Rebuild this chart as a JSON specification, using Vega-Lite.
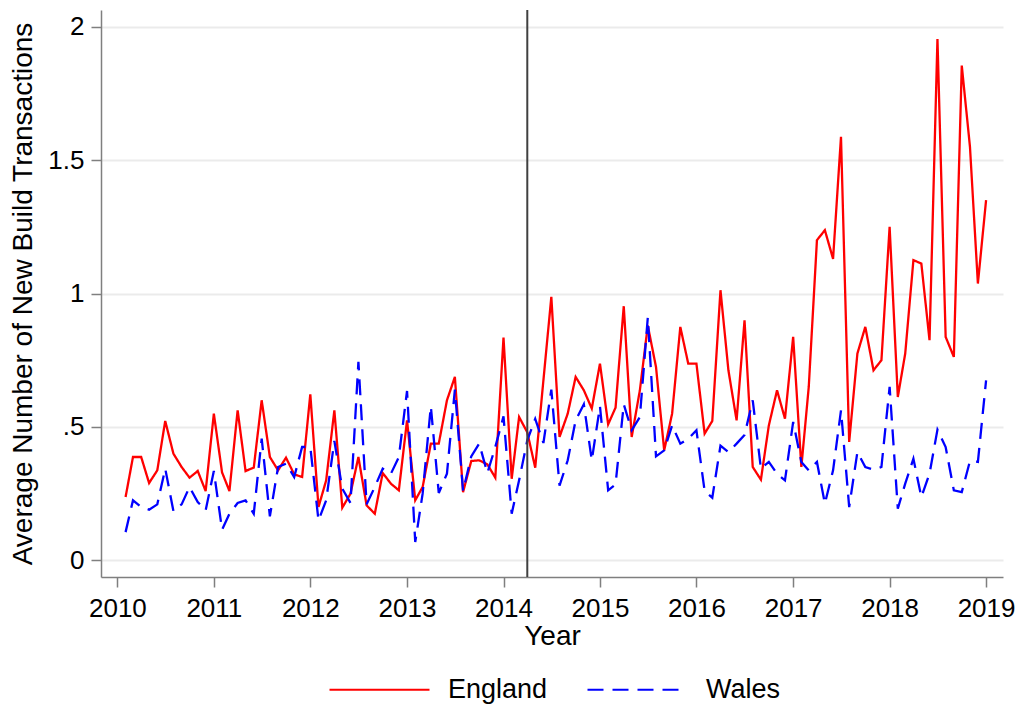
{
  "$schema": "https://vega.github.io/schema/vega-lite/v6.json",
  "width": 902,
  "height": 567,
  "autosize": {"type": "none"},
  "padding": {"left": 101, "top": 10, "right": 19, "bottom": 129},
  "background": "white",
  "config": {
    "view": {"stroke": null},
    "font": "Liberation Sans",
    "axis": {
      "domainColor": "#7f7f7f",
      "domainWidth": 1.5,
      "tickColor": "#7f7f7f",
      "tickWidth": 1.5,
      "tickSize": 10,
      "labelColor": "#000000",
      "labelFont": "Liberation Sans",
      "labelFontSize": 26,
      "titleColor": "#000000",
      "titleFont": "Liberation Sans",
      "titleFontSize": 28,
      "titleFontWeight": "normal"
    },
    "legend": {
      "labelFont": "Liberation Sans",
      "labelFontSize": 27,
      "labelColor": "#000000",
      "symbolType": "stroke",
      "symbolSize": 10000,
      "symbolStrokeWidth": 2.2,
      "labelOffset": 17,
      "columnPadding": 35,
      "padding": 0
    }
  },
  "layer": [
    {
      "data": {
        "values": [
          {"date": "2010-02-01", "England": 0.2375, "Wales": 0.106},
          {"date": "2010-03-01", "England": 0.3875, "Wales": 0.225},
          {"date": "2010-04-01", "England": 0.3875, "Wales": 0.2},
          {"date": "2010-05-01", "England": 0.29, "Wales": 0.19},
          {"date": "2010-06-01", "England": 0.3375, "Wales": 0.21},
          {"date": "2010-07-01", "England": 0.5225, "Wales": 0.344},
          {"date": "2010-08-01", "England": 0.4, "Wales": 0.185},
          {"date": "2010-09-01", "England": 0.35, "Wales": 0.21},
          {"date": "2010-10-01", "England": 0.31, "Wales": 0.275},
          {"date": "2010-11-01", "England": 0.335, "Wales": 0.219},
          {"date": "2010-12-01", "England": 0.26, "Wales": 0.1875},
          {"date": "2011-01-01", "England": 0.55, "Wales": 0.335},
          {"date": "2011-02-01", "England": 0.33, "Wales": 0.115},
          {"date": "2011-03-01", "England": 0.26, "Wales": 0.175},
          {"date": "2011-04-01", "England": 0.5625, "Wales": 0.215},
          {"date": "2011-05-01", "England": 0.335, "Wales": 0.225},
          {"date": "2011-06-01", "England": 0.3475, "Wales": 0.175},
          {"date": "2011-07-01", "England": 0.6, "Wales": 0.456},
          {"date": "2011-08-01", "England": 0.3875, "Wales": 0.165},
          {"date": "2011-09-01", "England": 0.3375, "Wales": 0.35},
          {"date": "2011-10-01", "England": 0.385, "Wales": 0.3625},
          {"date": "2011-11-01", "England": 0.3225, "Wales": 0.3125},
          {"date": "2011-12-01", "England": 0.3125, "Wales": 0.425},
          {"date": "2012-01-01", "England": 0.6225, "Wales": 0.425},
          {"date": "2012-02-01", "England": 0.2, "Wales": 0.15},
          {"date": "2012-03-01", "England": 0.3, "Wales": 0.225},
          {"date": "2012-04-01", "England": 0.5625, "Wales": 0.4475},
          {"date": "2012-05-01", "England": 0.1975, "Wales": 0.269},
          {"date": "2012-06-01", "England": 0.25, "Wales": 0.215},
          {"date": "2012-07-01", "England": 0.3875, "Wales": 0.744},
          {"date": "2012-08-01", "England": 0.206, "Wales": 0.21},
          {"date": "2012-09-01", "England": 0.175, "Wales": 0.275},
          {"date": "2012-10-01", "England": 0.3275, "Wales": 0.344},
          {"date": "2012-11-01", "England": 0.2875, "Wales": 0.325},
          {"date": "2012-12-01", "England": 0.2625, "Wales": 0.3875},
          {"date": "2013-01-01", "England": 0.525, "Wales": 0.635},
          {"date": "2013-02-01", "England": 0.225, "Wales": 0.069},
          {"date": "2013-03-01", "England": 0.275, "Wales": 0.25},
          {"date": "2013-04-01", "England": 0.4375, "Wales": 0.5775},
          {"date": "2013-05-01", "England": 0.4375, "Wales": 0.2525},
          {"date": "2013-06-01", "England": 0.6, "Wales": 0.325},
          {"date": "2013-07-01", "England": 0.6875, "Wales": 0.64},
          {"date": "2013-08-01", "England": 0.256, "Wales": 0.26},
          {"date": "2013-09-01", "England": 0.3725, "Wales": 0.39},
          {"date": "2013-10-01", "England": 0.375, "Wales": 0.4375},
          {"date": "2013-11-01", "England": 0.36, "Wales": 0.3275},
          {"date": "2013-12-01", "England": 0.31, "Wales": 0.425},
          {"date": "2014-01-01", "England": 0.835, "Wales": 0.54},
          {"date": "2014-02-01", "England": 0.306, "Wales": 0.175},
          {"date": "2014-03-01", "England": 0.5375, "Wales": 0.3},
          {"date": "2014-04-01", "England": 0.48, "Wales": 0.45},
          {"date": "2014-05-01", "England": 0.3475, "Wales": 0.53},
          {"date": "2014-06-01", "England": 0.675, "Wales": 0.44},
          {"date": "2014-07-01", "England": 0.9875, "Wales": 0.64},
          {"date": "2014-08-01", "England": 0.4625, "Wales": 0.28},
          {"date": "2014-09-01", "England": 0.55, "Wales": 0.375},
          {"date": "2014-10-01", "England": 0.6875, "Wales": 0.525},
          {"date": "2014-11-01", "England": 0.6375, "Wales": 0.585},
          {"date": "2014-12-01", "England": 0.569, "Wales": 0.375},
          {"date": "2015-01-01", "England": 0.7375, "Wales": 0.5775},
          {"date": "2015-02-01", "England": 0.51, "Wales": 0.2625},
          {"date": "2015-03-01", "England": 0.5725, "Wales": 0.285},
          {"date": "2015-04-01", "England": 0.9525, "Wales": 0.585},
          {"date": "2015-05-01", "England": 0.4625, "Wales": 0.4875},
          {"date": "2015-06-01", "England": 0.6375, "Wales": 0.5375},
          {"date": "2015-07-01", "England": 0.88, "Wales": 0.91},
          {"date": "2015-08-01", "England": 0.725, "Wales": 0.39},
          {"date": "2015-09-01", "England": 0.4125, "Wales": 0.4125},
          {"date": "2015-10-01", "England": 0.55, "Wales": 0.506},
          {"date": "2015-11-01", "England": 0.875, "Wales": 0.4375},
          {"date": "2015-12-01", "England": 0.7375, "Wales": 0.456},
          {"date": "2016-01-01", "England": 0.7375, "Wales": 0.4875},
          {"date": "2016-02-01", "England": 0.475, "Wales": 0.26},
          {"date": "2016-03-01", "England": 0.5225, "Wales": 0.235},
          {"date": "2016-04-01", "England": 1.0125, "Wales": 0.43},
          {"date": "2016-05-01", "England": 0.7125, "Wales": 0.406},
          {"date": "2016-06-01", "England": 0.525, "Wales": 0.4375},
          {"date": "2016-07-01", "England": 0.9, "Wales": 0.47},
          {"date": "2016-08-01", "England": 0.35, "Wales": 0.6},
          {"date": "2016-09-01", "England": 0.3025, "Wales": 0.344},
          {"date": "2016-10-01", "England": 0.506, "Wales": 0.369},
          {"date": "2016-11-01", "England": 0.6375, "Wales": 0.325},
          {"date": "2016-12-01", "England": 0.531, "Wales": 0.3},
          {"date": "2017-01-01", "England": 0.8375, "Wales": 0.519},
          {"date": "2017-02-01", "England": 0.35, "Wales": 0.369},
          {"date": "2017-03-01", "England": 0.65, "Wales": 0.3375},
          {"date": "2017-04-01", "England": 1.2, "Wales": 0.369},
          {"date": "2017-05-01", "England": 1.2375, "Wales": 0.2125},
          {"date": "2017-06-01", "England": 1.13, "Wales": 0.3375},
          {"date": "2017-07-01", "England": 1.5875, "Wales": 0.5625},
          {"date": "2017-08-01", "England": 0.444, "Wales": 0.2},
          {"date": "2017-09-01", "England": 0.775, "Wales": 0.406},
          {"date": "2017-10-01", "England": 0.875, "Wales": 0.35},
          {"date": "2017-11-01", "England": 0.7125, "Wales": 0.34},
          {"date": "2017-12-01", "England": 0.75, "Wales": 0.35},
          {"date": "2018-01-01", "England": 1.25, "Wales": 0.65},
          {"date": "2018-02-01", "England": 0.6125, "Wales": 0.194},
          {"date": "2018-03-01", "England": 0.775, "Wales": 0.2875},
          {"date": "2018-04-01", "England": 1.125, "Wales": 0.381},
          {"date": "2018-05-01", "England": 1.1125, "Wales": 0.2375},
          {"date": "2018-06-01", "England": 0.825, "Wales": 0.325},
          {"date": "2018-07-01", "England": 1.954, "Wales": 0.49},
          {"date": "2018-08-01", "England": 0.8375, "Wales": 0.425},
          {"date": "2018-09-01", "England": 0.7625, "Wales": 0.2625},
          {"date": "2018-10-01", "England": 1.854, "Wales": 0.256},
          {"date": "2018-11-01", "England": 1.55, "Wales": 0.3725},
          {"date": "2018-12-01", "England": 1.0375, "Wales": 0.369},
          {"date": "2019-01-01", "England": 1.35, "Wales": 0.675}
        ]
      },
      "transform": [{"fold": ["England", "Wales"], "as": ["region", "value"]}],
      "mark": {"type": "line", "strokeWidth": 2.3},
      "encoding": {
        "x": {
          "field": "date",
          "type": "temporal",
          "scale": {
            "type": "utc",
            "domain": [
              {"year": 2009, "month": 10, "date": 31, "utc": true},
              {"year": 2019, "month": 3, "date": 6, "utc": true}
            ]
          },
          "axis": {
            "title": "Year",
            "grid": false,
            "values": [
              {"year": 2010, "utc": true}, {"year": 2011, "utc": true}, {"year": 2012, "utc": true},
              {"year": 2013, "utc": true}, {"year": 2014, "utc": true}, {"year": 2015, "utc": true},
              {"year": 2016, "utc": true}, {"year": 2017, "utc": true}, {"year": 2018, "utc": true},
              {"year": 2019, "utc": true}
            ],
            "labelExpr": "utcFormat(datum.value, '%Y')",
            "labelPadding": 8,
            "titlePadding": 1,
            "labelFlush": false,
            "labelOverlap": false
          }
        },
        "y": {
          "field": "value",
          "type": "quantitative",
          "scale": {"domain": [-0.0622, 2.0625], "nice": false, "zero": false},
          "axis": {
            "title": "Average Number of New Build Transactions",
            "values": [0, 0.5, 1, 1.5, 2],
            "labelExpr": "datum.value == 0.5 ? '.5' : '' + datum.value",
            "grid": true,
            "gridColor": "#ebebeb",
            "gridWidth": 2,
            "labelPadding": 7,
            "titlePadding": 10
          }
        },
        "color": {
          "field": "region",
          "type": "nominal",
          "scale": {"domain": ["England", "Wales"], "range": ["#ff0000", "#0000ff"]},
          "legend": {
            "title": null,
            "orient": "none",
            "direction": "horizontal",
            "legendX": 227,
            "legendY": 628
          }
        },
        "strokeDash": {
          "field": "region",
          "type": "nominal",
          "scale": {"domain": ["England", "Wales"], "range": [[1, 0], [16, 9]]},
          "legend": {
            "title": null,
            "orient": "none",
            "direction": "horizontal",
            "legendX": 227,
            "legendY": 628
          }
        }
      }
    },
    {
      "data": {"values": [{"date": "2014-04-01"}]},
      "mark": {"type": "rule", "color": "#404040", "strokeWidth": 2},
      "encoding": {
        "x": {"field": "date", "type": "temporal"}
      }
    }
  ]
}
